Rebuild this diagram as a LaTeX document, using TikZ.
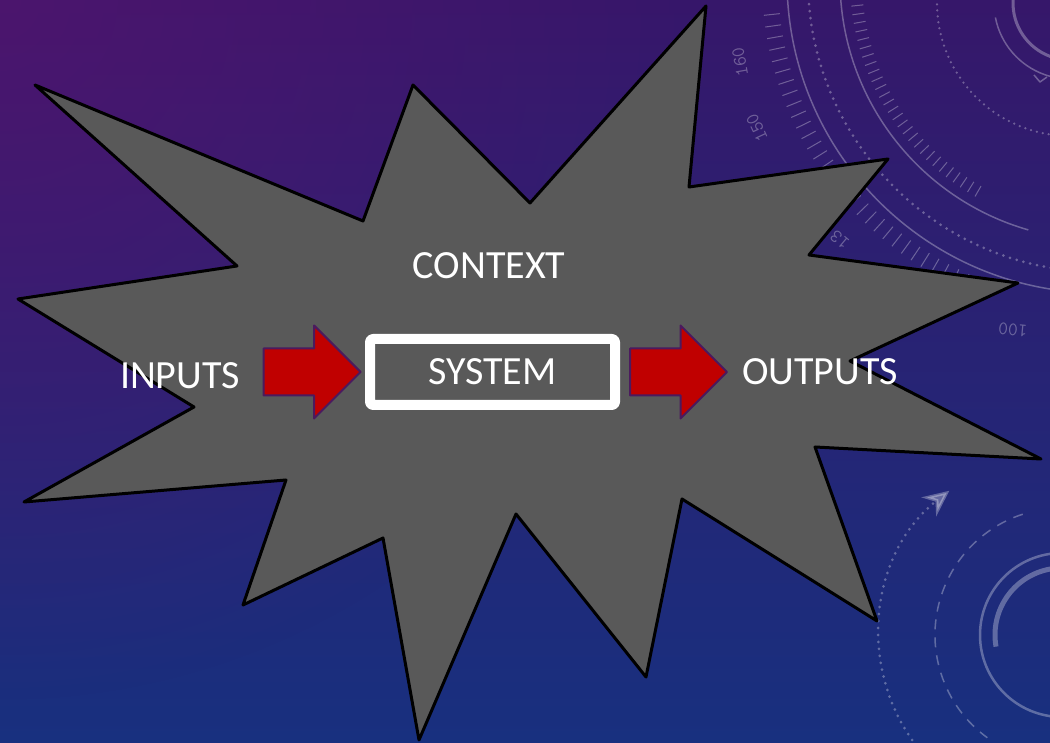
\documentclass[tikz,border=0pt]{standalone}
\usepackage{fontspec}
\setmainfont{Carlito}
\usetikzlibrary{shapes.arrows,positioning,arrows.meta,fadings}
\definecolor{bgtop}{HTML}{36176A}
\definecolor{bgmid}{HTML}{2A1E74}
\definecolor{bgbot}{HTML}{18307F}
\definecolor{bgglow}{HTML}{5A1470}
\definecolor{starfill}{HTML}{595959}
\definecolor{arrowred}{HTML}{C00000}
\definecolor{arrowedge}{HTML}{4B1A5E}
\tikzfading[name=glow,inner color=transparent!0,outer color=transparent!100]

\begin{document}
\begin{tikzpicture}[x=1pt,y=1pt,line join=round,
	whitetext/.style={text=white,font=\fontsize{40}{48}\selectfont,inner sep=0pt},
	redarrow/.style={shape=single arrow,fill=arrowred,draw=arrowedge,line width=2pt,
		single arrow head extend=23pt,minimum height=97pt,inner xsep=0pt,inner ysep=22.5pt},
	ring/.style={draw=white,opacity=0.3,line width=1.5pt},
	dialnum/.style={text=white,opacity=0.3,inner sep=0pt,font=\ttfamily\fontsize{19}{19}\selectfont}]
	
	% background
	\shade[top color=bgtop,middle color=bgmid,bottom color=bgbot] (0,0) rectangle (1050,743);
	\begin{scope}
		\clip (0,0) rectangle (1050,743);
		\fill[bgglow,opacity=0.6,path fading=glow] (0,743) circle (700);
		
		% dial, top right
		\draw[ring] (1100,763) circle (313);
		\draw[ring] (1100,763) ++(184:260) arc (184:254:260);
		\draw[ring,line width=3pt,dash pattern=on 0pt off 7pt,line cap=round] (1100,763) ++(182:292) arc (182:262:292);
		\foreach \a in {186,188,...,250} \draw[ring,line width=1pt] (1100,763) ++(\a:322) -- ++(\a:16);
		\foreach \a in {184,186,...,240} \draw[ring,line width=1pt] (1100,763) ++(\a:238) -- ++(\a:12);
		\node[dialnum,rotate=100] at (740,681) {160};
		\node[dialnum,rotate=115] at (757,615) {150};
		\node[dialnum,rotate=140] at (840,503) {13};
		\node[dialnum,rotate=175] at (1013,413) {100};
		\draw[ring,line width=3pt] (1070,740) ++(177:57) arc (177:250:57);
		\draw[ring] (1070,740) ++(191:76) arc (191:290:76);
		\draw[ring,line width=2.5pt,dash pattern=on 0pt off 6pt,line cap=round] (1070,740) ++(178:133) arc (178:290:133);
		\draw[ring] (1034,668) -- (1040,661) -- (1047,666);
		
		% dial, bottom right
		\draw[ring,line width=3pt,dash pattern=on 0pt off 7pt,line cap=round,-{Stealth[length=26pt,width=24pt]}] (1062,108) ++(215:183) arc (215:128:183);
		\draw[ring,dash pattern=on 10pt off 8pt] (1062,108) ++(108:127) arc (108:234:127);
		\draw[ring,line width=2.5pt] (1062,108) circle (82);
		\draw[ring,line width=5pt] (1062,108) ++(190:67) arc (190:100:67);
	\end{scope}
	
	% the context burst
	\draw[fill=starfill,line width=3pt] (35,658) -- (363,522) -- (413,658) -- (530,540) -- (706,737) -- (689,556)
		-- (888,584) -- (809,488) -- (1018,460) -- (850,382) -- (1041,284) -- (815,296) -- (877,122)
		-- (682,244) -- (646,66) -- (516,229) -- (419,3) -- (383,205) -- (243,138) -- (286,263)
		-- (24,241) -- (194,336) -- (18,444) -- (237,477) -- cycle;
	
	\node[whitetext,draw=white,line width=10pt,rounded corners=3pt,minimum width=245pt,minimum height=66pt] (sys) at (492.5,371) {SYSTEM};
	\node[redarrow,left=3pt of sys] (inarrow) {};
	\node[redarrow,right=9pt of sys] (outarrow) {};
	\node[whitetext,anchor=base] (context) at (489,464) {CONTEXT};
	\node[whitetext,anchor=base] (inputs) at (180,354) {INPUTS};
	\node[whitetext,anchor=base] (outputs) at (820,358) {OUTPUTS};
\end{tikzpicture}
\end{document}
